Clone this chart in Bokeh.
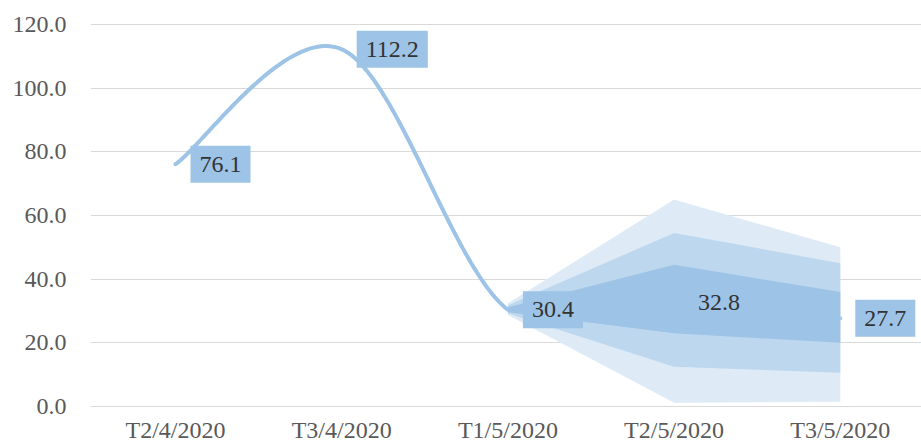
import numpy as np
from bokeh.plotting import figure
from bokeh.models import Range1d, FixedTicker, NumeralTickFormatter
from bokeh.core.properties import value
from bokeh.embed import file_html
from bokeh.resources import INLINE

# ---- data ----
categories = ["T2/4/2020", "T3/4/2020", "T1/5/2020", "T2/5/2020", "T3/5/2020"]
values = [76.1, 112.2, 30.4, 32.8, 27.7]
value_labels = ["76.1", "112.2", "30.4", "32.8", "27.7"]

fan_categories = ["T1/5/2020", "T2/5/2020", "T3/5/2020"]
outer_low = [28.8, 1.2, 1.5]
outer_high = [32.4, 65.0, 50.0]
middle_low = [29.2, 12.5, 10.6]
middle_high = [31.8, 54.5, 45.0]
inner_low = [29.6, 23.0, 20.0]
inner_high = [31.2, 44.5, 36.0]

y_ticks = [0, 20, 40, 60, 80, 100, 120]

# ---- helpers ----
pos = {c: i + 0.5 for i, c in enumerate(categories)}
xs = [pos[c] for c in categories]
fan_x = [pos[c] for c in fan_categories]


def smooth(px, py, n=60):
    pts = list(zip(px, py))
    ox, oy = [], []
    for i in range(len(pts) - 1):
        p0 = pts[i - 1] if i > 0 else pts[i]
        p1 = pts[i]
        p2 = pts[i + 1]
        p3 = pts[i + 2] if i + 2 < len(pts) else pts[i + 1]
        c1 = (p1[0] + (p2[0] - p0[0]) / 6, p1[1] + (p2[1] - p0[1]) / 6)
        c2 = (p2[0] - (p3[0] - p1[0]) / 6, p2[1] - (p3[1] - p1[1]) / 6)
        t = np.linspace(0, 1, n)
        a, b, c, d = (1 - t) ** 3, 3 * (1 - t) ** 2 * t, 3 * (1 - t) * t ** 2, t ** 3
        ox.extend(list(a * p1[0] + b * c1[0] + c * c2[0] + d * p2[0]))
        oy.extend(list(a * p1[1] + b * c1[1] + c * c2[1] + d * p2[1]))
    return ox, oy


sx, sy = smooth(xs, values)

LIGHT = "#DEEBF7"
MID = "#BDD7EE"
DARK = "#9DC3E6"
FONT = "Liberation Serif"

p = figure(width=921, height=445, output_backend="svg", toolbar_location=None,
           x_range=Range1d(-0.0114, 4.9886), y_range=Range1d(-7.21, 126.89),
           min_border_left=90, min_border_right=0, min_border_top=2, min_border_bottom=15)
p.outline_line_color = None
p.background_fill_color = "white"

p.line(sx, sy, line_color=DARK, line_width=4, line_cap="round")

p.varea(x=fan_x, y1=outer_low, y2=outer_high, fill_color=LIGHT)
p.varea(x=fan_x, y1=middle_low, y2=middle_high, fill_color=MID)
p.varea(x=fan_x, y1=inner_low, y2=inner_high, fill_color=DARK)

p.text(x=xs, y=values, text=value_labels, anchor="center_left", x_offset=15,
       text_font=value(FONT), text_font_size="24px", text_color="#333333",
       background_fill_color=DARK, padding=(9, 11))

# axes
p.yaxis.ticker = FixedTicker(ticks=y_ticks)
p.yaxis.formatter = NumeralTickFormatter(format="0.0")
p.yaxis.major_label_text_font = FONT
p.yaxis.major_label_text_font_size = "24px"
p.yaxis.major_label_text_color = "#595959"
p.yaxis.major_label_standoff = 18
p.yaxis.axis_line_color = None
p.yaxis.major_tick_line_color = None
p.yaxis.minor_tick_line_color = None

p.xaxis.ticker = FixedTicker(ticks=xs)
p.xaxis.major_label_overrides = {x: c for x, c in zip(xs, categories)}
p.xaxis.major_label_text_font = FONT
p.xaxis.major_label_text_font_size = "24px"
p.xaxis.major_label_text_color = "#595959"
p.xaxis.major_label_standoff = -13
p.xaxis.axis_line_color = None
p.xaxis.major_tick_line_color = None
p.xaxis.minor_tick_line_color = None
p.xaxis.major_tick_out = 0
p.xaxis.major_tick_in = 0

p.xgrid.grid_line_color = None
p.ygrid.grid_line_color = "#D9D9D9"
p.ygrid.grid_line_width = 1

open("out.html", "w").write(file_html(p, INLINE))
